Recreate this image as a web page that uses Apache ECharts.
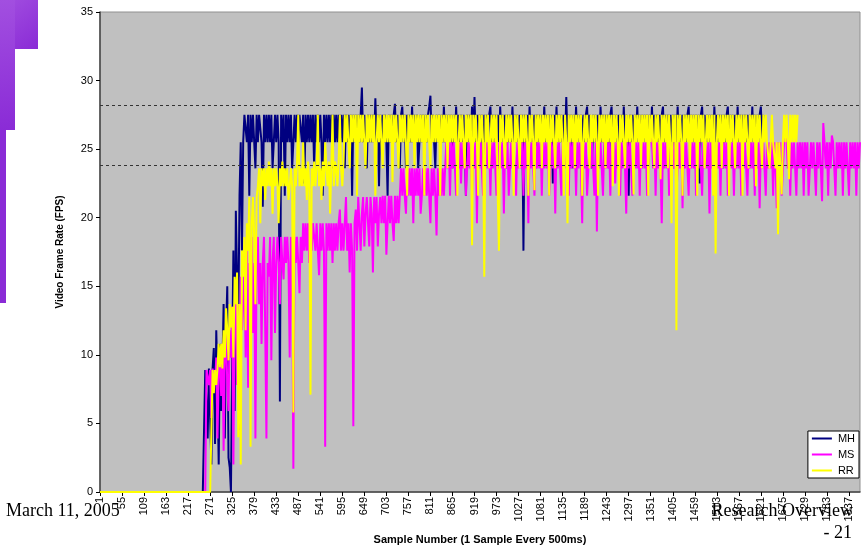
<!DOCTYPE html>
<html>
<head>
<meta charset="utf-8">
<script src="https://cdn.jsdelivr.net/npm/echarts@6/dist/echarts.min.js"></script>
<style>
html,body{margin:0;padding:0;background:#fff;}
#chart{width:862px;height:551px;}
</style>
</head>
<body>
<div id="chart"></div>
<script>
// Sample numbers (every 3rd sample, 1 sample every 500ms)
const categories = [];
for (let s = 1; s <= 1864; s += 3) categories.push(String(s));

const seriesNames = ['MH', 'MS', 'RR'];
const refLines = [28.2, 23.8];

const mhValues = [
0,0,0,0,0,0,0,0,0,0, 0,0,0,0,0,0,0,0,0,0, 0,0,0,0,0,0,0,0,0,0, 0,0,0,0,0,0,0,0,0,0,
0,0,0,0,0,0,0,0,0,0, 0,0,0,0,0,0,0,0,0,0, 0,0,0,0,0,0,0,0,0,0, 0,0,0,0,0,0,0,0,0,0,
0,0,0,0,0,0,
8.9,9.0,3.9,9.0,8.9,2.0,9.0,10.5,3.5,11.8,7.8,2.0,10.8,5.9,9.0,13.7,3.9,11.8,15.0,2.5,
1.8,0,9.8,17.6,5.9,20.5,15.7,12.0,21.6,25.5,17.6,25.5,27.5,
27.5,25.5,27.5,21.6,27.5,25.5,27.5,25.5,23.6,27.5,25.5,27.5,27.5,25.5,20.8,27.5,25.5,27.5,25.5,27.5,
25.5,27.5,23.6,25.5,27.5,25.5,27.5,25.5,6.6,27.5,25.5,27.5,21.6,27.5,25.5,27.5,25.5,27.5,23.6,25.5,
27.5,25.5,27.5,25.5,27.5,27.5,25.5,27.5,22.5,27.5,25.5,27.5,25.5,27.5,25.5,27.5,23.6,27.5,25.5,27.5,
25.5,27.5,25.5,21.6,27.5,25.5,27.5,25.5,27.5,25.5,27.5,23.6,27.5,25.5,27.5,25.5,27.5,25.5,27.5,25.5,
27.5,23.6,27.5,25.5,27.5,25.5,27.5,21.6,27.5,25.5,27.5,25.5,27.5,25.5,27.5,29.5,25.5,27.5,25.5,23.6,
27.5,25.5,27.5,25.5,27.5,25.5,28.7,25.5,27.5,22.3,27.5,25.5,27.5,25.5,27.5,25.5,21.6,27.5,25.5,27.5,
25.5,27.5,28.3,25.5,27.5,25.5,23.6,
27.5,28.1,25.5,27.5,23.6,27.5,25.5,27.5,25.5,28.1,25.5,27.5,25.5,27.5,23.6,25.5,27.5,25.5,27.5,25.5,
27.5,25.5,27.5,28.1,28.9,25.5,27.5,25.5,23.6,27.5,25.5,27.5,25.5,27.5,25.5,28.1,25.5,27.5,25.5,27.5,
25.5,27.5,23.6,27.5,25.5,28.1,25.5,27.5,25.5,27.5,25.5,27.5,25.5,21.6,27.5,25.5,27.5,25.5,28.1,25.5,
28.8,25.5,27.5,25.5,27.5,25.5,27.5,23.6,27.5,25.5,27.5,25.5,27.5,28.1,25.5,27.5,25.5,27.5,25.5,27.5,
25.5,28.1,25.5,27.5,25.5,27.5,23.6,27.5,25.5,27.5,25.5,28.1,25.5,27.5,25.5,27.5,25.5,27.5,25.5,27.5,
17.6,27.5,25.5,27.5,25.5,28.1,25.5,27.5,25.5,27.5,23.6,27.5,25.5,27.5,25.5,27.5,25.5,28.1,25.5,27.5,
25.5,27.5,25.5,27.5,22.5,27.5,25.5,28.1,25.5,27.5,25.5,27.5,25.5,27.5,25.5,28.8,25.5,27.5,25.5,27.5,
23.6,27.5,25.5,28.1,25.5,27.5,25.5,27.5,25.5,27.5,25.5,27.5,28.1,25.5,27.5,25.5,23.6,27.5,25.5,27.5,
25.5,27.5,25.5,28.1,25.5,27.5,25.5,27.5,25.5,27.5,23.6,27.5,28.1,25.5,27.5,25.5,27.5,25.5,27.5,25.5,
27.5,25.5,28.1,25.5,27.5,25.5,21.6,27.5,25.5,27.5,25.5,27.5,25.5,28.1,25.5,27.5,25.5,27.5,25.5,27.5,
25.5,27.5,23.6,27.5,25.5,28.1,25.5,27.5,25.5,27.5,25.5,27.5,25.5,27.5,28.1,25.5,27.5,25.5,27.5,25.5,
27.5,25.5,27.5,23.6,27.5,25.5,28.1,25.5,27.5,25.5,27.5,25.5,27.5,25.5,27.5,28.1,25.5,27.5,25.5,27.5,
25.5,27.5,25.5,27.5,22.5,27.5,28.1,25.5,27.5,25.5,27.5,25.5,27.5,25.5,27.5,25.5,28.1,25.5,27.5,25.5,
27.5,25.5,27.5,23.6,27.5,25.5,27.5,28.1,25.5,27.5,25.5,27.5,25.5,27.5,25.5,28.1,25.5,27.5,25.5,27.5,
25.5,27.5,25.5,27.5,23.6,27.5,25.5,28.1,25.5,27.5,25.5,27.5,25.5,27.5,28.1,25.5,27.5
];

const msValues = [
0,0,0,0,0,0,0,0,0,0, 0,0,0,0,0,0,0,0,0,0, 0,0,0,0,0,0,0,0,0,0, 0,0,0,0,0,0,0,0,0,0,
0,0,0,0,0,0,0,0,0,0, 0,0,0,0,0,0,0,0,0,0, 0,0,0,0,0,0,0,0,0,0, 0,0,0,0,0,0,0,0,0,0,
0,0,0,0,0,0,0,
8.9,9.0,7.8,8.9,5.4,9.0,8.9,7.8,9.8,3.9,8.9,9.8,7.0,10.8,3.0,9.8,11.8,7.8,5.9,11.8,
9.8,13.5,2.0,12.5,15.3,7.8,13.7,4.5,15.7,11.8,13.7,16.7,9.8,18.6,7.6,16.7,15.7,18.6,11.6,16.7,
3.9,17.6,18.6,13.7,16.7,10.8,
16.7,18.6,11.8,3.9,16.7,15.7,18.6,9.6,16.7,18.6,11.6,16.7,18.6,16.7,13.7,18.6,16.7,15.5,18.6,16.7,
18.6,16.7,9.8,18.6,16.7,1.7,18.6,16.7,18.6,16.7,14.5,18.6,16.7,
19.6,17.6,19.6,17.6,19.6,16.7,19.6,17.6,19.6,19.6,17.6,19.6,17.6,15.8,19.6,17.6,19.6,17.6,3.3,19.6,
17.6,19.6,17.6,19.6,16.7,19.6,17.6,19.6,17.6,19.6,20.6,17.6,19.6,17.6,19.6,21.5,17.6,19.6,16.0,19.6,
17.6,4.8,19.6,20.6,17.6,21.5,19.6,17.6,20.3,21.5,17.9,20.3,21.5,19.6,17.9,21.5,20.3,16.0,21.5,19.6,
21.5,17.9,20.3,21.5,19.6,
21.6,19.6,21.6,17.3,19.6,21.6,19.6,21.6,19.6,18.3,21.6,19.6,21.6,19.6,21.6,23.6,21.6,23.6,21.6,20.3,
23.6,21.6,23.6,21.6,23.6,19.6,23.6,21.6,23.6,21.6,23.6,20.3,21.6,23.6,21.6,23.6,21.6,23.6,21.6,19.6,
23.6,21.6,23.6,21.6,18.7,23.6,21.6,23.6,21.6,23.6,21.6,23.6,
25.5,23.6,25.5,21.6,25.5,23.6,25.5,23.6,21.6,25.5,23.6,25.5,22.5,25.5,23.6,25.5,21.6,23.6,25.5,23.6,
25.5,21.6,25.5,23.6,25.5,19.6,25.5,23.6,25.5,23.6,21.6,25.5,23.6,25.5,23.6,25.5,21.6,25.5,23.6,25.5,
23.6,21.6,25.5,23.6,25.5,23.6,25.5,20.3,25.5,23.6,25.5,21.6,23.6,25.5,23.6,25.5,23.6,21.6,25.5,23.6,
25.5,23.6,25.5,21.6,25.5,23.6,25.5,19.6,25.5,23.6,25.5,23.6,21.6,25.5,23.6,25.5,23.6,25.5,21.6,25.5,
23.6,25.5,23.6,25.5,21.6,23.6,25.5,23.6,25.5,20.3,25.5,23.6,25.5,23.6,21.6,25.5,23.6,25.5,23.6,25.5,
21.6,25.5,23.6,25.5,23.6,25.5,21.6,25.5,23.6,25.5,23.6,19.6,25.5,23.6,25.5,21.6,23.6,25.5,23.6,25.5,
23.6,21.6,25.5,19.0,25.5,23.6,25.5,23.6,21.6,25.5,23.6,25.5,23.6,25.5,21.6,25.5,23.6,25.5,22.5,25.5,
23.6,25.5,21.6,25.5,23.6,25.5,23.6,20.3,25.5,23.6,25.5,23.6,21.6,25.5,23.6,25.5,23.6,25.5,21.6,25.5,
23.6,25.5,23.6,25.5,21.6,23.6,25.5,26.9,25.5,23.6,25.5,21.6,25.5,23.6,25.5,23.6,19.6,25.5,23.6,25.5,
23.6,25.5,21.6,25.5,23.6,25.5,23.6,25.5,21.6,23.6,25.5,23.6,25.5,20.7,25.5,23.6,25.5,23.6,21.6,25.5,
23.6,25.5,23.6,25.5,21.6,25.5,23.6,25.5,23.6,21.6,25.5,23.6,25.5,23.6,25.5,20.3,25.5,23.6,25.5,21.6,
23.6,25.5,23.6,25.5,21.6,25.5,23.6,25.5,23.6,25.5,21.6,23.6,25.5,23.6,25.5,21.6,25.5,23.6,25.5,23.6,
25.5,21.6,25.5,23.6,25.5,23.6,21.6,25.5,23.6,25.5,23.6,25.5,21.6,25.5,23.6,25.5,20.7,25.5,23.6,25.5,
23.6,21.6,25.5,23.6,25.5,23.6,25.5,21.6,25.5,23.6,20.7,25.5,23.6,25.5,21.6,23.6,25.5,26.0,25.5,23.6,
25.5,21.6,25.5,23.6,25.5,23.6,21.6,25.5,23.6,25.5,23.6,25.5,21.6,25.5,23.6,25.5,21.6,23.6,25.5,23.6,
25.5,23.6,21.6,25.5,23.6,25.5,23.6,21.2,26.9,25.5,23.6,25.5,21.6,25.5,23.6,26.0,25.5,23.6,21.6,25.5,
23.6,25.5,23.6,25.5,21.6,25.5,23.6,25.5,23.6,21.6,25.5,23.6,25.5,23.6,25.5,21.6,25.5,23.6,25.5
];

const rrValues = [
0,0,0,0,0,0,0,0,0,0, 0,0,0,0,0,0,0,0,0,0, 0,0,0,0,0,0,0,0,0,0, 0,0,0,0,0,0,0,0,0,0,
0,0,0,0,0,0,0,0,0,0, 0,0,0,0,0,0,0,0,0,0, 0,0,0,0,0,0,0,0,0,0, 0,0,0,0,0,0,0,0,0,0,
0,0,0,0,0,0,0,0,0,0, 0,0,
8.9,7.2,8.9,7.8,9.0,10.8,9.1,10.8,9.0,11.8,9.8,13.4,11.8,9.6,13.7,12.0,13.5,9.8,15.7,13.7,
16.0,4.0,13.7,2.0,17.6,15.7,18.6,11.8,19.6,17.6,21.5,3.3,19.6,21.5,18.6,13.7,21.5,22.3,23.6,19.6,
23.6,22.3,23.6,21.3,23.6,22.3,24.1,22.3,23.6,20.3,23.6,22.3,23.6,22.3,19.6,23.6,22.3,24.1,22.3,23.6,
22.3,23.6,21.3,22.3,23.6,22.3,5.8,23.6,22.3,24.1,27.5,22.3,23.6,22.3,25.5,22.3,23.6,21.3,24.1,22.3,
7.1,23.6,22.3,24.1,22.3,23.6,27.5,22.3,23.6,21.3,24.1,22.3,25.5,23.6,22.3,24.1,20.3,23.6,27.5,22.3,
24.1,23.6,22.3,24.1,27.5,23.6,22.3,24.1,
27.5,25.5,27.5,25.5,23.6,27.5,25.5,27.5,25.5,27.5,21.6,27.5,25.5,27.5,25.5,27.5,25.5,23.6,27.5,25.5,
27.5,25.5,27.5,25.5,27.5,21.6,25.5,27.5,25.5,27.5,25.5,23.6,27.5,25.5,27.5,25.5,27.5,25.5,27.5,22.6,
27.5,25.5,27.5,25.5,23.6,27.5,25.5,27.5,25.5,27.5,25.5,21.6,27.5,25.5,27.5,25.5,27.5,23.6,27.5,25.5,
27.5,25.5,27.5,25.5,27.5,21.6,27.5,25.5,27.5,25.5,23.6,27.5,25.5,27.5,25.5,27.5,25.5,27.5,21.6,27.5,
25.5,27.5,25.5,27.5,23.6,27.5,25.5,27.5,25.5,27.5,25.5,27.5,21.6,25.5,27.5,25.5,27.5,25.5,23.6,27.5,
25.5,27.5,25.5,27.5,18.0,27.5,25.5,27.5,25.5,21.6,27.5,25.5,27.5,25.5,15.7,27.5,25.5,27.5,23.6,25.5,
27.5,25.5,27.5,25.5,27.5,21.6,17.6,27.5,25.5,27.5,25.5,23.6,27.5,25.5,27.5,25.5,27.5,25.5,21.6,27.5,
25.5,27.5,25.5,23.6,27.5,25.5,27.5,25.5,27.5,25.5,21.6,27.5,25.5,27.5,25.5,22.0,27.5,25.5,27.5,25.5,
27.5,23.6,27.5,25.5,27.5,25.5,27.5,21.6,27.5,25.5,27.5,25.5,23.6,27.5,25.5,27.5,25.5,27.5,25.5,21.6,
27.5,25.5,19.6,27.5,25.5,27.5,25.5,27.5,23.6,27.5,25.5,27.5,25.5,27.5,21.6,25.5,27.5,25.5,27.5,25.5,
23.6,27.5,25.5,27.5,25.5,27.5,25.5,21.6,27.5,25.5,27.5,25.5,27.5,23.6,27.5,25.5,27.5,25.5,27.5,22.3,
27.5,25.5,27.5,25.5,21.6,27.5,25.5,27.5,25.5,23.6,27.5,25.5,27.5,25.5,27.5,25.5,21.7,27.5,25.5,27.5,
25.5,27.5,23.6,27.5,25.5,27.5,25.5,27.5,21.6,27.5,25.5,27.5,25.5,23.6,27.5,25.5,27.5,25.5,22.8,27.5,
25.5,27.5,25.5,27.5,23.6,27.5,25.5,19.6,27.5,25.5,27.5,11.8,27.5,25.5,27.5,25.5,21.6,27.5,25.5,27.5,
25.5,27.5,23.6,27.5,25.5,27.5,25.5,27.5,21.6,27.5,25.5,27.5,25.5,27.5,23.6,25.5,27.5,25.5,27.5,25.5,
27.5,21.6,27.5,17.4,25.5,27.5,25.5,27.5,23.6,27.5,25.5,27.5,25.5,27.5,21.6,27.5,25.5,27.5,25.5,23.6,
27.5,25.5,27.5,25.5,27.5,21.6,27.5,25.5,27.5,25.5,23.6,27.5,25.5,27.5,25.5,27.5,22.3,27.5,25.5,27.5,
25.5,23.6,27.5,25.5,27.5,25.5,25.5,23.6,25.5,27.5,25.5,25.5,23.6,25.5,18.8,25.5,23.6,21.7,25.5,27.5,
25.5,27.5,25.5,22.8,27.5,25.5,27.5,25.5,27.5,25.5,27.5
];

const seriesValues = [mhValues, msValues, rrValues];
const seriesColors = ['#000080', '#FF00FF', '#FFFF00'];

const chart = echarts.init(document.getElementById('chart'), null, {renderer: 'canvas'});

const series = seriesNames.map((name, k) => ({
  name: name,
  type: 'line',
  data: seriesValues[k],
  symbol: 'none',
  showSymbol: false,
  color: seriesColors[k],
  lineStyle: {color: seriesColors[k], width: 2},
  itemStyle: {color: seriesColors[k]},
  emphasis: {disabled: true},
  z: 2 + k
}));
series[2].markLine = {
  silent: true,
  symbol: ['none', 'none'],
  label: {show: false},
  lineStyle: {color: '#333', type: [3, 3], width: 1},
  data: refLines.map(v => ({yAxis: v}))
};

const purple = new echarts.graphic.LinearGradient(0, 0, 1, 1, [
  {offset: 0, color: '#a24fe0'},
  {offset: 1, color: '#8a2bd6'}
]);

chart.setOption({
  animation: false,
  backgroundColor: '#ffffff',
  textStyle: {fontFamily: 'Liberation Sans, Arial, sans-serif'},
  grid: {
    left: 100, right: 2, top: 12, bottom: 59,
    show: true, backgroundColor: '#C0C0C0', borderColor: '#909090', borderWidth: 1,
    containLabel: false
  },
  legend: {
    data: seriesNames,
    orient: 'vertical',
    right: 3,
    top: 431,
    itemWidth: 22,
    itemHeight: 2,
    itemGap: 5,
    padding: [2, 4, 2, 4],
    icon: 'path://M0,0L10,0L10,1L0,1Z',
    backgroundColor: '#ffffff',
    borderColor: '#000',
    borderWidth: 1,
    borderRadius: 0,
    textStyle: {fontSize: 11, color: '#000', fontFamily: 'Liberation Sans, Arial, sans-serif'}
  },
  xAxis: {
    type: 'category',
    data: categories,
    boundaryGap: false,
    name: 'Sample Number (1 Sample Every 500ms)',
    nameLocation: 'middle',
    nameGap: 42,
    nameTextStyle: {fontSize: 11, fontWeight: 'bold', color: '#000'},
    axisLine: {show: true, lineStyle: {color: '#444', width: 1.5}},
    axisTick: {show: true, interval: 17, length: 4, inside: false, lineStyle: {color: '#000'}},
    axisLabel: {interval: 17, rotate: 90, fontSize: 11, color: '#000', margin: 5},
    splitLine: {show: false}
  },
  yAxis: {
    type: 'value',
    min: 0, max: 35, interval: 5,
    name: 'Video Frame Rate (FPS)',
    nameLocation: 'middle',
    nameGap: 35,
    nameTextStyle: {fontSize: 10, fontWeight: 'bold', color: '#000'},
    axisLine: {show: true, lineStyle: {color: '#444', width: 1.5}},
    axisTick: {show: true, length: 4, inside: false, lineStyle: {color: '#000'}},
    axisLabel: {fontSize: 11, color: '#000', margin: 7},
    splitLine: {show: false}
  },
  series: series,
  graphic: [
    {type: 'rect', left: 0, top: 0, z: 0, shape: {width: 38, height: 49}, style: {fill: purple}},
    {type: 'rect', left: 0, top: 0, z: 0, shape: {width: 15, height: 130}, style: {fill: purple}},
    {type: 'rect', left: 0, top: 130, z: 0, shape: {width: 6, height: 173}, style: {fill: '#8a2bd6'}},
    {type: 'text', left: 6, top: 502, z: 100, style: {text: 'March 11, 2005', font: '18px "Liberation Serif", "Times New Roman", serif', fill: '#000'}},
    {type: 'text', right: 9, top: 502, z: 100, style: {text: 'Research Overview', font: '18px "Liberation Serif", "Times New Roman", serif', fill: '#000'}},
    {type: 'text', right: 10, top: 524, z: 100, style: {text: '- 21', font: '18px "Liberation Serif", "Times New Roman", serif', fill: '#000'}}
  ]
});
</script>
</body>
</html>
